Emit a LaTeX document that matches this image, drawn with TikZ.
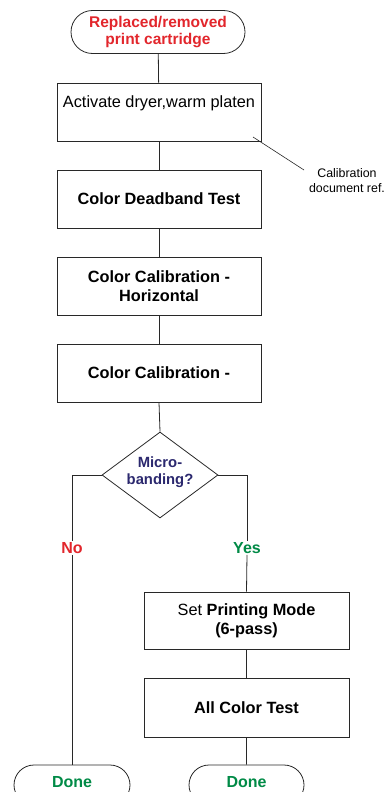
\documentclass[tikz,border=0pt]{standalone}
\usepackage{fontspec}
\setmainfont{Liberation Sans}
\usetikzlibrary{shapes.geometric,shapes.misc}
\definecolor{cred}{RGB}{226,38,44}
\definecolor{cgreen}{RGB}{0,138,70}
\definecolor{cnavy}{RGB}{43,40,110}
\definecolor{cline}{RGB}{40,40,40}
\begin{document}
\begin{tikzpicture}[x=1pt,y=-1pt,
  conn/.style={draw=cline,line width=0.8pt},
  term/.style={rounded rectangle,draw=cline,line width=0.8pt,inner sep=0pt,font=\bfseries\fontsize{15.5}{17}\selectfont,align=center},
  box/.style={rectangle,draw=cline,line width=0.8pt,minimum width=204pt,minimum height=58pt,inner sep=0pt,font=\bfseries\fontsize{16.3}{19}\selectfont,align=center},
  dec/.style={diamond,draw=cline,line width=0.8pt,minimum width=116pt,minimum height=86pt,inner sep=0pt},
  dectext/.style={inner sep=0pt,font=\bfseries\fontsize{14.8}{17}\selectfont,align=center,text=cnavy},
  lbl/.style={font=\bfseries\fontsize{16}{18}\selectfont}
]
\useasboundingbox (0,0) rectangle (387,792);
\clip (0,0) rectangle (387,792);
\node[term,minimum width=174pt,minimum height=43pt,text=cred] (start) at (158,32) {Replaced/removed\\print cartridge};
\node[box] (dry) at (159,112) {};
\node[font=\fontsize{16.3}{19}\selectfont,inner sep=0pt] (drytxt) at (159,103) {Activate dryer,warm platen};
\node[box] (dead) at (159,199) {Color Deadband Test};
\node[box] (calh) at (159,286) {Color Calibration -\\Horizontal};
\node[box] (cal) at (159,373) {Color Calibration -};
\node[dec] (mb) at (160,475) {};
\node[dectext] (mbtxt) at (160,472) {Micro-\\banding?};
\node[box,minimum width=205pt,minimum height=57pt] (mode) at (246.5,620.5) {\mdseries Set \bfseries Printing Mode\\(6-pass)};
\node[box,minimum width=205pt,minimum height=59pt] (all) at (246.5,707.5) {All Color Test};
\node[term,minimum width=116pt,minimum height=40pt,text=cgreen,font=\bfseries\fontsize{16}{18}\selectfont] (done1) at (72,785) {\raisebox{7pt}{Done}};
\node[term,minimum width=115pt,minimum height=40pt,text=cgreen,font=\bfseries\fontsize{16}{18}\selectfont] (done2) at (246.5,785) {\raisebox{7pt}{Done}};
\node[lbl,text=cred,fill=white,inner sep=1pt] (no) at (72,548) {No};
\node[lbl,text=cgreen,fill=white,inner sep=1pt] (yes) at (247,548) {Yes};
\node[font=\fontsize{12.4}{15}\selectfont,align=center,inner sep=0pt] (note) at (347,181) {Calibration\\document ref.};
\coordinate (notea) at (253,137);
\coordinate (noteb) at (304,170);
\draw[conn] (start) -- (dry);
\draw[conn] (dry) -- (dead);
\draw[conn] (dead) -- (calh);
\draw[conn] (calh) -- (cal);
\draw[conn] (cal.south) -- (mb.north);
\draw[conn] (mb.west) -| (no.north);
\draw[conn] (no.south) -- (done1.north);
\draw[conn] (mb.east) -| (yes.north);
\draw[conn] (yes.south) -- (mode.north);
\draw[conn] (mode) -- (all);
\draw[conn] (all) -- (done2);
\draw[conn,line width=0.6pt] (notea) -- (noteb);
\end{tikzpicture}
\end{document}
